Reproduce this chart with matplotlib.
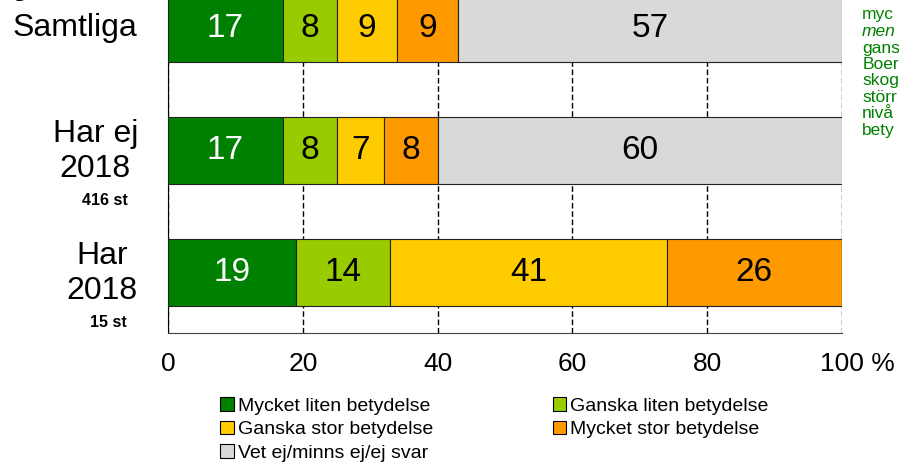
import numpy as np
import matplotlib.pyplot as plt
import matplotlib.transforms as mtransforms
from matplotlib.patches import Patch

plt.rcParams['font.family'] = ['Liberation Sans', 'DejaVu Sans']

# data
groups = ["Samtliga", "Har ej\n2018", "Har\n2018"]
counts = ["", "416 st", "15 st"]
series = ["Mycket liten betydelse", "Ganska liten betydelse",
          "Ganska stor betydelse", "Mycket stor betydelse",
          "Vet ej/minns ej/ej svar"]
mycket_liten = [17, 17, 19]
ganska_liten = [8, 8, 14]
ganska_stor = [9, 7, 41]
mycket_stor = [9, 8, 26]
vet_ej = [57, 60, 0]
colors = ["#008000", "#99CC00", "#FFCC00", "#FF9900", "#D9D9D9"]
text_colors = ["white", "black", "black", "black", "black"]
# visible part of the note text cut by the right edge
side_lines = ["myc", "men", "gans", "Boer", "skog", "störr", "nivå", "bety"]

fig = plt.figure(figsize=(8.99, 4.63), dpi=100)
ax = fig.add_axes([0.1869, 0.2797, 0.7497, 0.7905])

y = np.arange(len(groups))
left = np.zeros(len(groups))
handles = []
for vals, c, tc, name in zip([mycket_liten, ganska_liten, ganska_stor, mycket_stor, vet_ej],
                             colors, text_colors, series):
    vals = np.array(vals)
    ax.barh(y, vals, left=left, height=0.55, color=c, edgecolor="#222222",
            linewidth=0.8, zorder=3)
    for yi, v, l in zip(y, vals, left):
        if v > 0:
            ax.text(l + v / 2, yi, str(v), ha="center", va="center",
                    fontsize=24, color=tc, zorder=4)
    left = left + vals
    handles.append(Patch(facecolor=c, edgecolor="black", linewidth=0.8, label=name))

ax.set_xlim(0, 100)
ax.set_ylim(2.5, -0.5)
ax.set_xticks([0, 20, 40, 60, 80, 100])
ax.set_xticklabels(["0", "20", "40", "60", "80", "100 %"], fontsize=19)
ax.tick_params(axis="x", length=0, pad=13)
# "100" sits on the tick, the % hangs to the right
last = ax.get_xticklabels()[-1]
last.set_transform(last.get_transform() +
                   mtransforms.ScaledTranslation(0.15, 0, fig.dpi_scale_trans))
ax.set_yticks([])
ax.xaxis.grid(True, linestyle=(0, (4, 2)), color="black", linewidth=1, zorder=0)
ax.set_axisbelow(True)
for s in ["top", "right"]:
    ax.spines[s].set_visible(False)
ax.spines["left"].set_color("black")
ax.spines["bottom"].set_color("#444444")

# category labels
tr = ax.get_yaxis_transform()
ax.text(-0.045, 0, groups[0], transform=tr, ha="right", va="center", fontsize=23)
grp_x = {1: -0.108, 2: -0.098}
cnt_x = {1: -0.094, 2: -0.089}
for i in [1, 2]:
    ax.text(grp_x[i], i + 0.01, groups[i], transform=tr, ha="center", va="center",
            fontsize=23, multialignment="center", linespacing=1.2)
    ax.text(cnt_x[i], i + 0.41, counts[i], transform=tr, ha="center", va="center",
            fontsize=11.5, fontweight="bold")

# legend: column-wise order so rows read as in the original
order = [0, 2, 4, 1, 3]
fig.legend([handles[i] for i in order], [series[i] for i in order],
           loc="upper left", bbox_to_anchor=(0.245, 0.142), ncol=2, frameon=False,
           fontsize=14, handlelength=0.7, handleheight=0.7, handletextpad=0.2,
           labelspacing=0.3, columnspacing=6.15, borderpad=0, borderaxespad=0)

# note text at the right edge
for k, s in enumerate(side_lines):
    fig.text(0.959, 1 - (15 + 16.5 * k) / 463, s, fontsize=12.5, color="#008000",
             va="center", ha="left", style="italic" if s == "men" else "normal")
fig.text(0.012, 1.013, "g", fontsize=23, va="baseline")

fig.savefig("out.png", dpi=100)
